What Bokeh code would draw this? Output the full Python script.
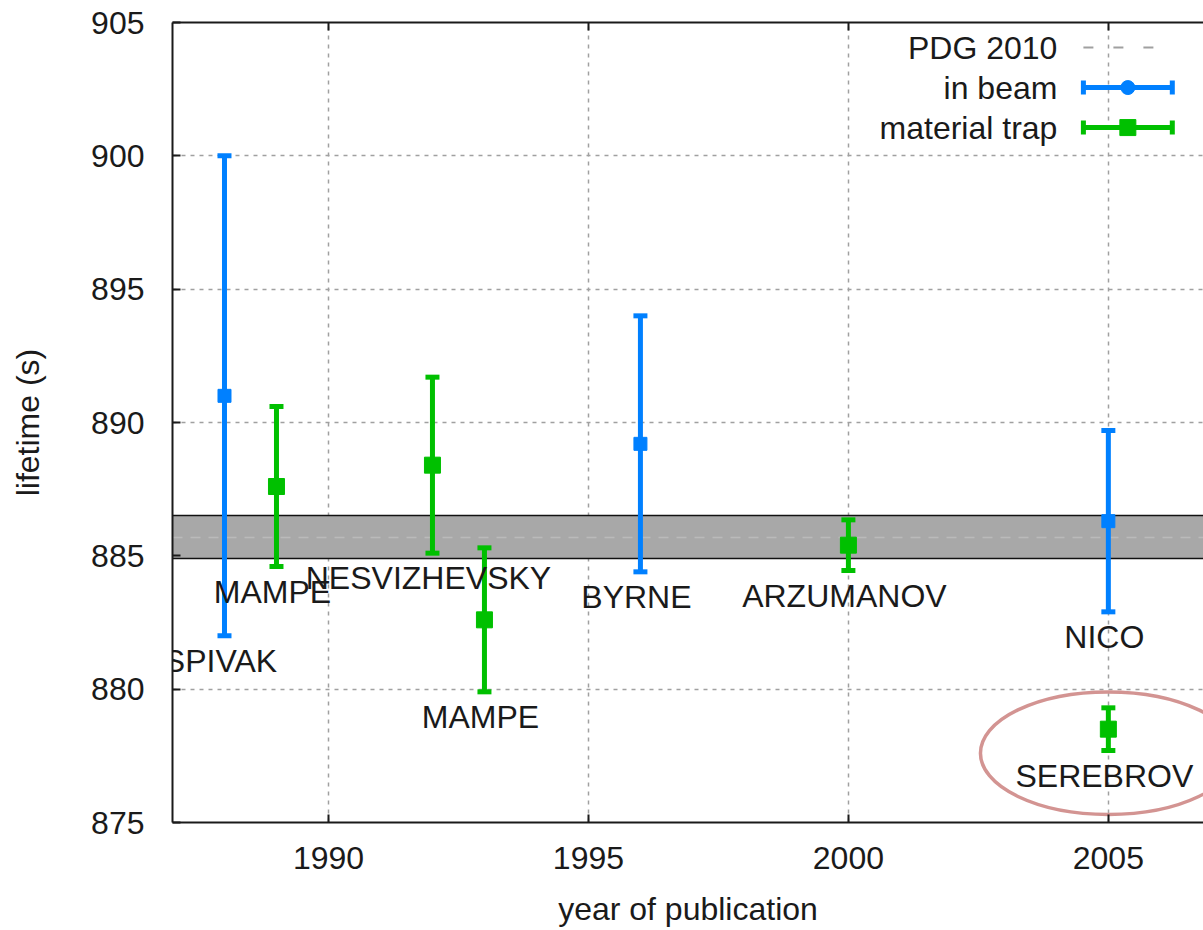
import math

from bokeh.plotting import figure
from bokeh.models import LinearAxis, FixedTicker, Range1d
from bokeh.embed import file_html
from bokeh.resources import INLINE
from bokeh.core.properties import value

# Neutron lifetime measurements: in-beam experiments
beam_names = ["SPIVAK", "BYRNE", "NICO"]
beam_year = [1988, 1996, 2005]
beam_tau = [891.0, 889.2, 886.3]
beam_err = [9.0, 4.8, 3.4]

# Neutron lifetime measurements: material bottle traps
trap_names = ["MAMPE", "NESVIZHEVSKY", "MAMPE", "ARZUMANOV", "SEREBROV"]
trap_year = [1989, 1992, 1993, 2000, 2005]
trap_tau = [887.6, 888.4, 882.6, 885.4, 878.5]
trap_err = [3.0, 3.3, 2.7, 0.95, 0.8]

# PDG 2010 world average
pdg_tau = 885.7
pdg_err = 0.8

x_ticks = [1990, 1995, 2000, 2005]
y_ticks = [875, 880, 885, 890, 895, 900, 905]
legend_labels = ["PDG 2010", "in beam", "material trap"]

X_START, X_END = 1987.0, 2006.83
Y_START, Y_END = 875.0, 905.0

BLUE = "#0080ff"
GREEN = "#00c000"
INK = "#1a1a1a"
FONT = "Liberation Sans"
FS = "32px"

p = figure(
    width=1203, height=930,
    x_range=Range1d(X_START, X_END), y_range=Range1d(Y_START, Y_END),
    output_backend="svg", toolbar_location=None,
    min_border_left=172, min_border_right=0,
    min_border_top=22, min_border_bottom=108,
)
p.outline_line_color = None
p.background_fill_color = "white"
p.border_fill_color = "white"

# dotted grid
for g, ticks in ((p.xgrid, x_ticks), (p.ygrid, y_ticks)):
    g.ticker = FixedTicker(ticks=ticks)
    g.grid_line_color = "#a0a0a0"
    g.grid_line_dash = "4 5"
    g.grid_line_width = 1.5


def style_axis(ax):
    ax.axis_line_color = INK
    ax.axis_line_width = 2
    ax.major_tick_in = 8
    ax.major_tick_out = 0
    ax.major_tick_line_color = INK
    ax.major_tick_line_width = 2
    ax.minor_tick_line_color = None
    ax.major_label_text_font = FONT
    ax.major_label_text_font_size = FS
    ax.major_label_text_color = INK
    ax.axis_label_text_font = FONT
    ax.axis_label_text_font_size = FS
    ax.axis_label_text_font_style = "normal"
    ax.axis_label_text_color = INK


xa = p.xaxis[0]
ya = p.yaxis[0]
style_axis(xa)
style_axis(ya)
xa.ticker = FixedTicker(ticks=x_ticks)
ya.ticker = FixedTicker(ticks=y_ticks)
xa.major_label_standoff = 24
xa.axis_label = "year of publication"
xa.axis_label_standoff = 19
ya.major_label_standoff = 28
ya.axis_label = "lifetime (s)"
ya.axis_label_standoff = 42

# mirrored top border with ticks
top = LinearAxis(ticker=FixedTicker(ticks=x_ticks))
style_axis(top)
top.major_label_text_font_size = "0px"
top.major_label_text_alpha = 0
top.major_label_standoff = 0
p.add_layout(top, "above")

# PDG band
lo, hi = pdg_tau - pdg_err, pdg_tau + pdg_err
p.quad(left=[X_START], right=[X_END], bottom=[lo], top=[hi],
       fill_color="#a8a8a8", line_color=None)
p.hspan(y=[pdg_tau], line_color="#bababa", line_width=1.5, line_dash="10 8")
p.hspan(y=[lo, hi], line_color="#111111", line_width=1.5)


def draw_series(years, tau, err, names, color, marker_size):
    lows = [t - e for t, e in zip(tau, err)]
    highs = [t + e for t, e in zip(tau, err)]
    p.segment(x0=years, y0=lows, x1=years, y1=highs,
              line_color=color, line_width=5)
    p.scatter(x=years + years, y=lows + highs, marker="dash", size=14,
              line_color=color, line_width=5)
    p.scatter(x=years, y=tau, marker="square", size=marker_size,
              fill_color=color, line_color=color)
    p.text(x=years, y=lows, text=names, text_align="center",
           text_baseline="middle", x_offset=-4, y_offset=25,
           text_font=value(FONT), text_font_size=FS, text_color=INK)


draw_series(beam_year, beam_tau, beam_err, beam_names, BLUE, 13)
draw_series(trap_year, trap_tau, trap_err, trap_names, GREEN, 16)

# highlight around the SEREBROV result
sx, st, se = trap_year[-1], trap_tau[-1], trap_err[-1]
p.ellipse(x=[sx], y=[st - se - 0.1], width=4.92, height=4.6,
          fill_color=None, line_color="#d39492", line_width=3.5)

# key (labels right-aligned, samples to the right)
key_text_x = X_END - 2.81
key_x0, key_x1 = X_END - 2.31, X_END - 0.60
key_xc = (key_x0 + key_x1) / 2
key_y = [Y_END - 0.94, Y_END - 2.44, Y_END - 3.94]

p.text(x=[key_text_x] * 3, y=key_y, text=legend_labels, text_align="right",
       text_baseline="middle", text_font=value(FONT), text_font_size=FS,
       text_color=INK)
p.segment(x0=[key_x0], y0=[key_y[0]], x1=[key_x1], y1=[key_y[0]],
          line_color="#a0a0a0", line_width=2, line_dash="10 20")
for yk, color, marker, size in ((key_y[1], BLUE, "circle", 14),
                                (key_y[2], GREEN, "square", 16)):
    p.segment(x0=[key_x0], y0=[yk], x1=[key_x1], y1=[yk],
              line_color=color, line_width=5)
    p.scatter(x=[key_x0, key_x1], y=[yk, yk], marker="dash", angle=math.pi / 2,
              size=14, line_color=color, line_width=5)
    p.scatter(x=[key_xc], y=[yk], marker=marker, size=size,
              fill_color=color, line_color=color)

open("out.html", "w").write(file_html(p, INLINE))
